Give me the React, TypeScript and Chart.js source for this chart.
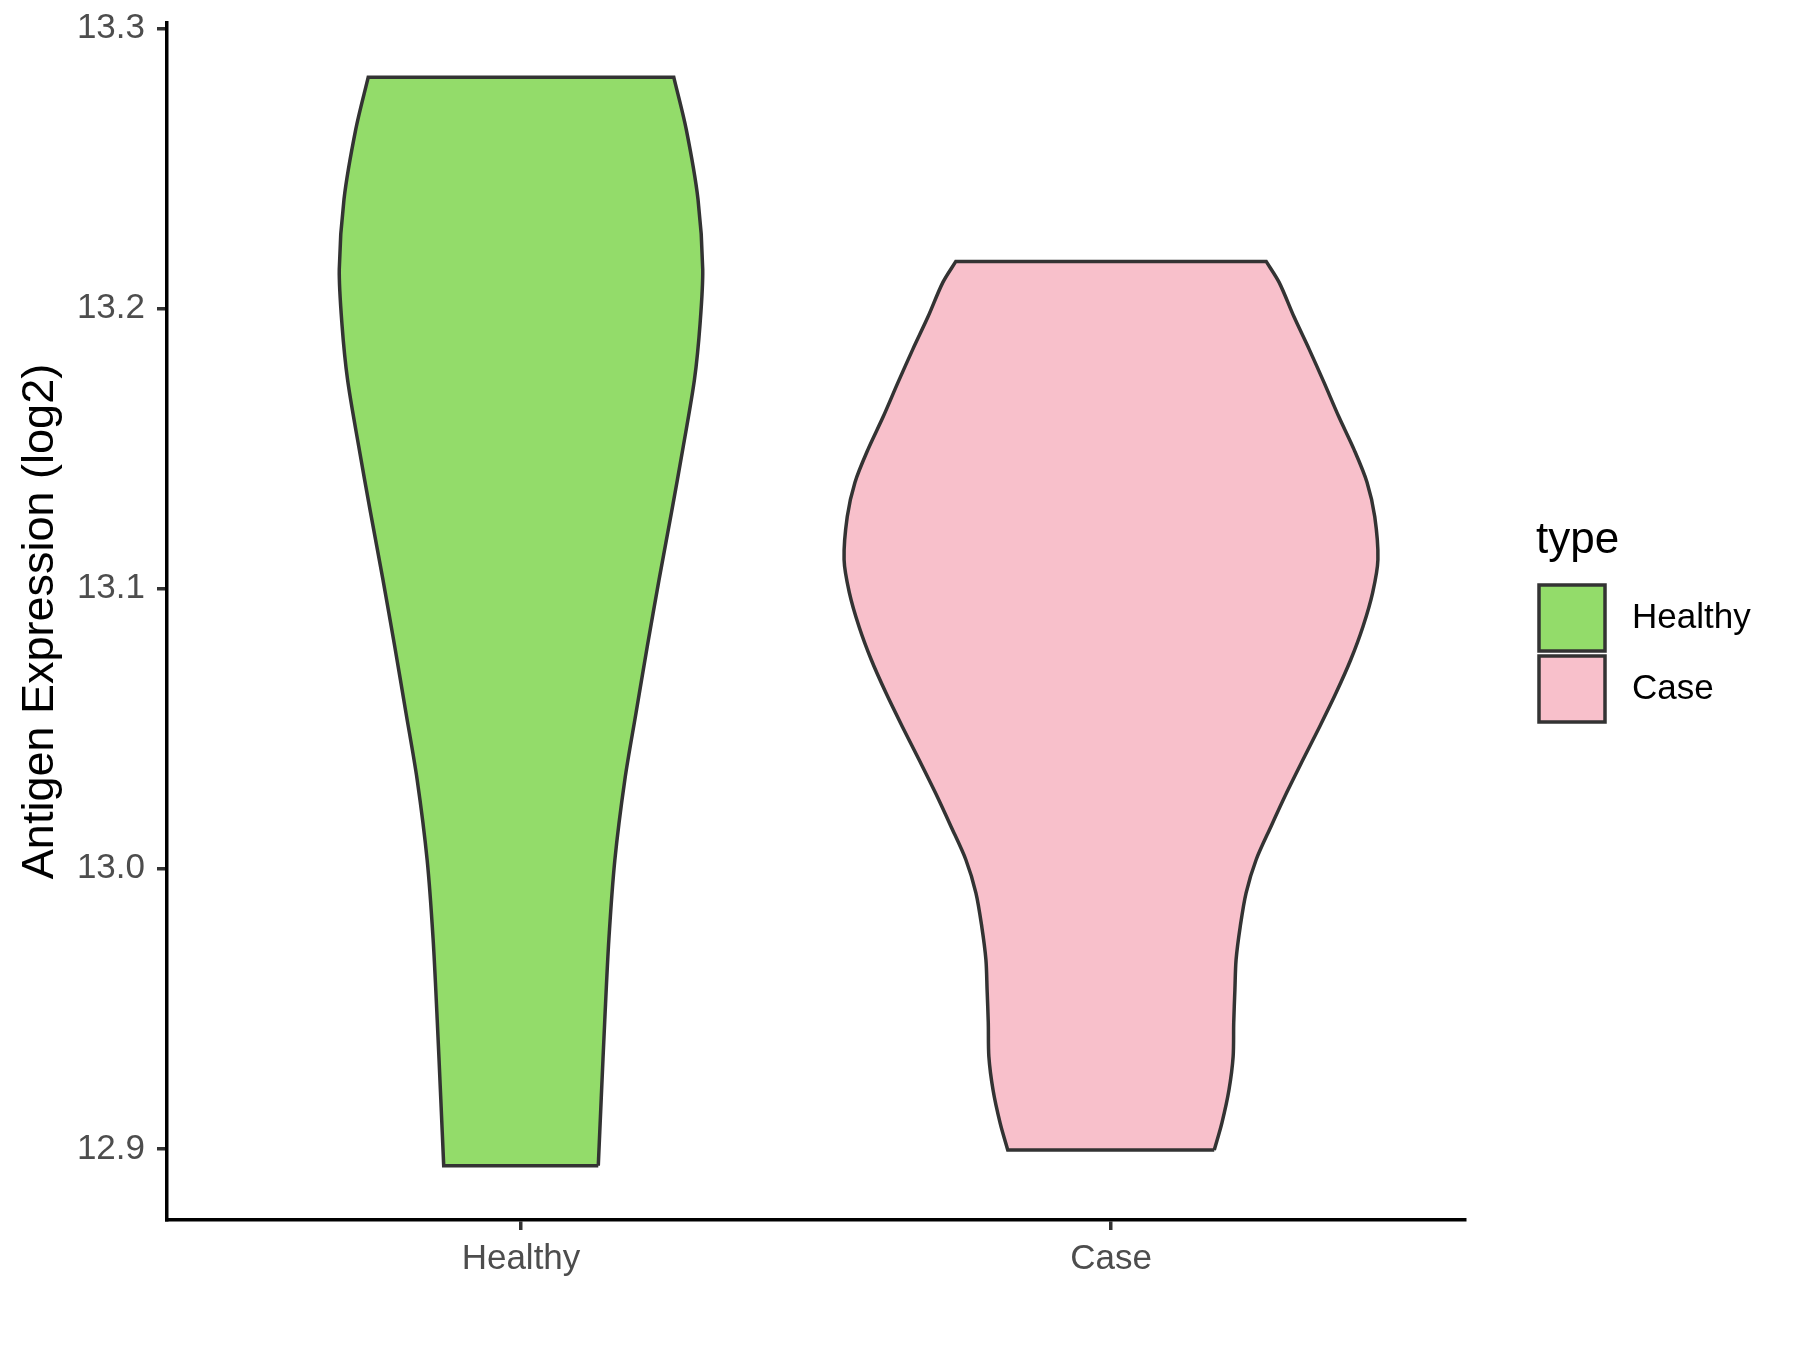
import React, { useEffect, useRef } from 'react';
import { Chart, registerables } from 'chart.js';

Chart.register(...registerables);

// ---------- data ----------
const categories = ['Healthy', 'Case'];
const categoryPositions = [1, 2];
const yTicks = [12.9, 13.0, 13.1, 13.2, 13.3];

// violin outlines: expression value (ascending) and half-width (x units)
const healthyValues = [12.894, 12.918, 12.946, 12.975, 13.003, 13.0318, 13.0557, 13.0793, 13.1032, 13.1271, 13.1507, 13.1746, 13.1945, 13.214, 13.239, 13.264, 13.2825];
const healthyHalfWidths = [0.131, 0.136, 0.142, 0.149, 0.159, 0.176, 0.195, 0.214, 0.234, 0.255, 0.275, 0.294, 0.3035, 0.308, 0.3, 0.28, 0.259];

const caseValues = [12.8996, 12.9093, 12.9211, 12.9329, 12.945, 12.9568, 12.9675, 12.9793, 12.9914, 13.0032, 13.015, 13.0271, 13.0389, 13.0507, 13.0629, 13.0746, 13.0864, 13.0986, 13.1104, 13.1257, 13.1379, 13.1496, 13.1614, 13.1736, 13.1854, 13.1971, 13.2093, 13.2168];
const caseHalfWidths = [0.175, 0.188, 0.2, 0.207, 0.208, 0.21, 0.212, 0.219, 0.229, 0.246, 0.271, 0.2976, 0.3253, 0.3536, 0.3817, 0.4063, 0.427, 0.4435, 0.4524, 0.447, 0.434, 0.412, 0.386, 0.361, 0.336, 0.31, 0.285, 0.263];

const fillColors = ['#93DC6A', '#F8C0CB'];
const outlineColor = '#333333';

const yMin = 12.8746;
const yMax = 13.3019;
const xMin = 0.4;
const xMax = 2.6;

// closed outline; the end points are repeated so the smooth sides meet straight top/bottom edges
function violinOutline(pos: number, values: number[], halfWidths: number[]) {
  const n = values.length;
  const pts: { x: number; y: number }[] = [];
  pts.push({ x: pos + halfWidths[0], y: values[0] });
  for (let i = 0; i < n; i++) pts.push({ x: pos + halfWidths[i], y: values[i] });
  pts.push({ x: pos + halfWidths[n - 1], y: values[n - 1] });
  pts.push({ x: pos - halfWidths[n - 1], y: values[n - 1] });
  for (let i = n - 1; i >= 0; i--) pts.push({ x: pos - halfWidths[i], y: values[i] });
  pts.push({ x: pos - halfWidths[0], y: values[0] });
  pts.push({ x: pos + halfWidths[0], y: values[0] });
  return pts;
}

const FONT = "'Liberation Sans', Arial, sans-serif";

const legendPlugin = {
  id: 'ggLegend',
  afterDraw(chart: any) {
    const ctx = chart.ctx;
    ctx.save();
    ctx.fillStyle = '#000000';
    ctx.font = `44px ${FONT}`;
    ctx.textAlign = 'left';
    ctx.textBaseline = 'alphabetic';
    ctx.fillText('type', 1536, 553);
    chart.data.datasets.forEach((ds: any, i: number) => {
      const x = 1539;
      const y = 585 + i * 71;
      ctx.fillStyle = ds.backgroundColor;
      ctx.fillRect(x, y, 66, 66);
      ctx.strokeStyle = outlineColor;
      ctx.lineWidth = 3.5;
      ctx.strokeRect(x, y, 66, 66);
      ctx.fillStyle = '#000000';
      ctx.font = `35px ${FONT}`;
      ctx.textBaseline = 'middle';
      ctx.fillText(ds.label, 1632, y + 33);
    });
    ctx.restore();
  },
};

export default function App() {
  const canvasRef = useRef<HTMLCanvasElement | null>(null);

  useEffect(() => {
    if (!canvasRef.current) return;
    const chart = new Chart(canvasRef.current, {
      type: 'line',
      data: {
        datasets: [
          {
            label: categories[0],
            data: violinOutline(categoryPositions[0], healthyValues, healthyHalfWidths),
            backgroundColor: fillColors[0],
            borderColor: outlineColor,
            borderWidth: 3.5,
            borderJoinStyle: 'miter',
            pointRadius: 0,
            tension: 0.3,
            fill: 'shape',
          },
          {
            label: categories[1],
            data: violinOutline(categoryPositions[1], caseValues, caseHalfWidths),
            backgroundColor: fillColors[1],
            borderColor: outlineColor,
            borderWidth: 3.5,
            borderJoinStyle: 'miter',
            pointRadius: 0,
            tension: 0.3,
            fill: 'shape',
          },
        ],
      },
      options: {
        animation: false,
        responsive: false,
        devicePixelRatio: 1,
        layout: { padding: { top: 23, right: 335, bottom: 0, left: 0 } },
        plugins: {
          legend: { display: false },
          tooltip: { enabled: false },
        },
        scales: {
          x: {
            type: 'linear',
            min: xMin,
            max: xMax,
            afterBuildTicks: (scale: any) => {
              scale.ticks = categoryPositions.map((v) => ({ value: v }));
            },
            afterFit: (scale: any) => {
              scale.height = 130;
              scale.paddingLeft = 0;
              scale.paddingRight = 0;
            },
            ticks: {
              color: '#4D4D4D',
              font: { family: FONT, size: 35 },
              padding: 8,
              callback: (v: any) => {
                const idx = categoryPositions.indexOf(Number(v));
                return idx >= 0 ? categories[idx] : '';
              },
            },
            grid: {
              display: true,
              drawOnChartArea: false,
              drawTicks: true,
              tickLength: 10,
              color: '#333333',
              lineWidth: 3.5,
            },
            border: { display: true, color: '#000000', width: 3.5 },
          },
          y: {
            type: 'linear',
            min: yMin,
            max: yMax,
            afterBuildTicks: (scale: any) => {
              scale.ticks = yTicks.map((v) => ({ value: v }));
            },
            afterFit: (scale: any) => {
              scale.width = 167;
              scale.paddingTop = 0;
              scale.paddingBottom = 0;
            },
            ticks: {
              color: '#4D4D4D',
              font: { family: FONT, size: 35 },
              padding: 12,
              callback: (v: any) => Number(v).toFixed(1),
            },
            grid: {
              display: true,
              drawOnChartArea: false,
              drawTicks: true,
              tickLength: 10,
              color: '#333333',
              lineWidth: 3.5,
            },
            border: { display: true, color: '#000000', width: 3.5 },
            title: {
              display: true,
              text: 'Antigen Expression (log2)',
              color: '#000000',
              font: { family: FONT, size: 45 },
              padding: { top: 14, bottom: 0 },
            },
          },
        },
      },
      plugins: [legendPlugin],
    });
    return () => chart.destroy();
  }, []);

  return (
    <div style={{ position: 'fixed', left: 0, top: 0, width: 1800, height: 1350, background: '#ffffff' }}>
      <canvas ref={canvasRef} width={1800} height={1350} style={{ width: 1800, height: 1350 }} />
    </div>
  );
}
